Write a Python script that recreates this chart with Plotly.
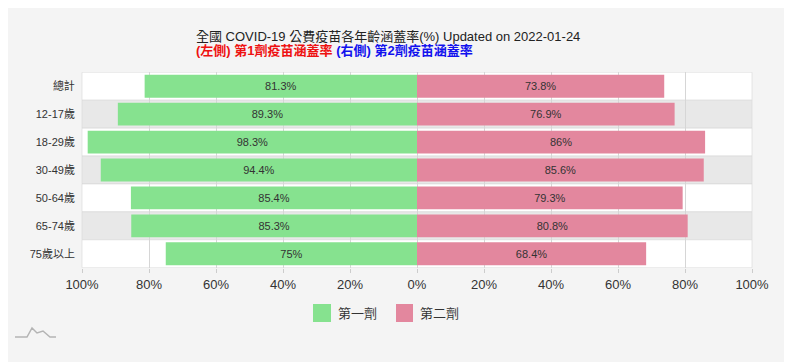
import plotly.graph_objects as go

categories = ["總計", "12-17歲", "18-29歲", "30-49歲", "50-64歲", "65-74歲", "75歲以上"]
dose1 = [81.3, 89.3, 98.3, 94.4, 85.4, 85.3, 75]
dose2 = [73.8, 76.9, 86, 85.6, 79.3, 80.8, 68.4]
tick_vals = [-100, -80, -60, -40, -20, 0, 20, 40, 60, 80, 100]
tick_text = ["100%", "80%", "60%", "40%", "20%", "0%", "20%", "40%", "60%", "80%", "100%"]
series_names = ["第一劑", "第二劑"]
series_colors = ["#86e28f", "#e3879e"]

W, H = 792, 362
L, R, T, B = 74, 48, 64, 102
PW, PH = W - L - R, H - T - B


def px(x):
    return (x - L) / PW


def py(y):
    return (T + PH - y) / PH


fig = go.Figure()
fig.add_trace(go.Bar(
    y=categories, x=[-v for v in dose1], orientation="h", name=series_names[0],
    marker=dict(color=series_colors[0], line=dict(width=0)),
    text=[f"{v:g}%" for v in dose1], textposition="inside", insidetextanchor="middle",
    textfont=dict(color="#333333", size=11), hoverinfo="skip", showlegend=False,
))
fig.add_trace(go.Bar(
    y=categories, x=dose2, orientation="h", name=series_names[1],
    marker=dict(color=series_colors[1], line=dict(width=0)),
    text=[f"{v:g}%" for v in dose2], textposition="inside", insidetextanchor="middle",
    textfont=dict(color="#333333", size=11), hoverinfo="skip", showlegend=False,
))

shapes = []
for i in range(len(categories)):
    shapes.append(dict(type="rect", xref="paper", yref="y", x0=0, x1=1, y0=i - 0.5, y1=i + 0.5,
                       fillcolor="#e8e8e8" if i % 2 == 1 else "#ffffff",
                       line=dict(width=0.6, color="#d6d6d6"), layer="below"))

# custom legend
annotations = []
leg_sq = [(305, 323), (388, 405)]
leg_txt = [328, 410]
for (x0, x1), tx, name, col in zip(leg_sq, leg_txt, series_names, series_colors):
    shapes.append(dict(type="rect", xref="paper", yref="paper", x0=px(x0), x1=px(x1),
                       y0=py(314), y1=py(296), fillcolor=col, line=dict(width=0)))
    annotations.append(dict(xref="paper", yref="paper", x=px(tx), y=py(305), text=name,
                            showarrow=False, xanchor="left", yanchor="middle",
                            font=dict(size=13, color="#333333")))

# logo
pts = [(7, 329), (19, 329), (24, 320), (29, 325), (35, 323), (42, 329), (48, 329)]
path = "M " + " L ".join(f"{px(a):.4f} {py(b):.4f}" for a, b in pts)
shapes.append(dict(type="path", xref="paper", yref="paper", path=path,
                   line=dict(color="#b4b4b4", width=1.5)))

# title lines
annotations.append(dict(xref="paper", yref="paper", x=px(187), y=py(28), xanchor="left", yanchor="middle",
                        text="全國 COVID-19 公費疫苗各年齡涵蓋率(%) Updated on 2022-01-24",
                        showarrow=False, borderpad=0, font=dict(size=13, color="#222222")))
annotations.append(dict(xref="paper", yref="paper", x=px(187), y=py(43), xanchor="left", yanchor="middle",
                        text="<b><span style='color:#ee1111'>(左側) 第1劑疫苗涵蓋率</span> "
                             "<span style='color:#1111ee'>(右側) 第2劑疫苗涵蓋率</span></b>",
                        showarrow=False, borderpad=0, font=dict(size=13)))

fig.update_layout(
    width=W, height=H,
    margin=dict(l=L, r=R, t=T, b=B),
    paper_bgcolor="#f4f4f4", plot_bgcolor="#ffffff",
    barmode="relative", bargap=0.18, showlegend=False,
    font=dict(family="Arial, 'Noto Sans CJK TC', sans-serif", color="#333333"),
    xaxis=dict(range=[-100, 100], tickvals=tick_vals, ticktext=tick_text, automargin=False,
               showgrid=True, gridcolor="#d6d6d6", gridwidth=1, zeroline=False,
               tickfont=dict(size=13, color="#333333"), fixedrange=True,
               ticks="outside", ticklen=4, tickcolor="#cccccc"),
    yaxis=dict(autorange="reversed", tickfont=dict(size=11, color="#333333"), automargin=False,
               showgrid=False, ticks="", ticksuffix="  "),
    shapes=shapes, annotations=annotations,
)

fig.write_html("out.html")
